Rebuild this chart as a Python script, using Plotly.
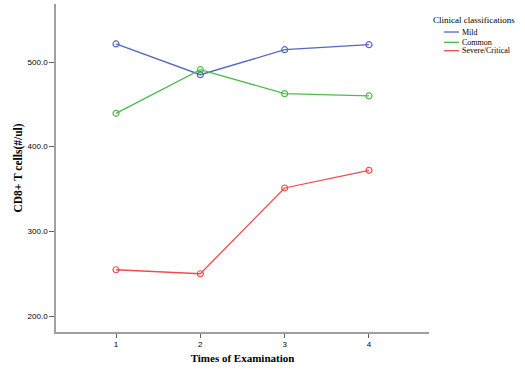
import plotly.graph_objects as go

times = [1, 2, 3, 4]
mild = [521.3, 485.0, 514.5, 520.4]
common = [439.4, 490.9, 462.6, 459.9]
severe = [254.6, 249.9, 351.2, 372.1]
series_names = ["Mild", "Common", "Severe/Critical"]
legend_title = "Clinical classifications"
colors = ["#5468bf", "#4cbb4c", "#ee4a4f"]
y_ticks = [200, 300, 400, 500]
y_tick_labels = ["200.0", "300.0", "400.0", "500.0"]

fig = go.Figure()
for name, vals, c in zip(series_names, [mild, common, severe], colors):
    fig.add_trace(go.Scatter(
        x=times, y=vals, name=name, mode="lines+markers", showlegend=False,
        line=dict(color=c, width=1.3),
        marker=dict(symbol="circle-open", size=6, color=c, line=dict(width=1.2)),
    ))

# compact legend (SPSS style), built from the series names and colours
fig.add_annotation(
    text=legend_title, xref="paper", yref="paper", x=1.006, y=0.951,
    xanchor="left", yanchor="middle", showarrow=False,
    font=dict(family="Liberation Serif", size=9, color="#000"),
)
legend_y = [0.9146, 0.8832, 0.8576]
for name, c, ly in zip(series_names, colors, legend_y):
    fig.add_shape(type="line", xref="paper", yref="paper",
                  x0=1.0402, x1=1.0804, y0=ly, y1=ly,
                  line=dict(color=c, width=1.3))
    fig.add_annotation(
        text=name, xref="paper", yref="paper", x=1.083, y=ly,
        xanchor="left", yanchor="middle", showarrow=False,
        font=dict(family="Liberation Serif", size=8, color="#000"),
    )

fig.update_layout(
    width=525, height=369,
    margin=dict(l=56, r=96, t=4, b=37, autoexpand=False),
    paper_bgcolor="white", plot_bgcolor="white",
    font=dict(family="Liberation Serif", size=9, color="#000"),
    showlegend=False,
    xaxis=dict(
        range=[0.288, 4.712], tickvals=times, ticktext=[str(t) for t in times],
        showgrid=False, zeroline=False, showline=True, linecolor="#a0a0a0", linewidth=1.5,
        ticks="outside", ticklen=4, tickcolor="#606060", tickwidth=1,
        tickfont=dict(family="Liberation Sans", size=8), automargin=False,
        title=dict(text="<b>Times of Examination</b>", font=dict(family="Liberation Serif", size=11), standoff=6),
    ),
    yaxis=dict(
        range=[181.1, 568.5], tickvals=y_ticks, ticktext=y_tick_labels,
        showgrid=False, zeroline=False, showline=True, linecolor="#a0a0a0", linewidth=1.5,
        ticks="outside", ticklen=5, tickcolor="#606060", tickwidth=1,
        tickfont=dict(family="Liberation Sans", size=8), automargin=False,
        title=dict(text="<b>CD8+ T cells(#/ul)</b>", font=dict(family="Liberation Serif", size=11.5), standoff=3),
    ),
)

fig.write_html("out.html", config={"displayModeBar": False},
               post_script="document.body.style.margin='0';")
